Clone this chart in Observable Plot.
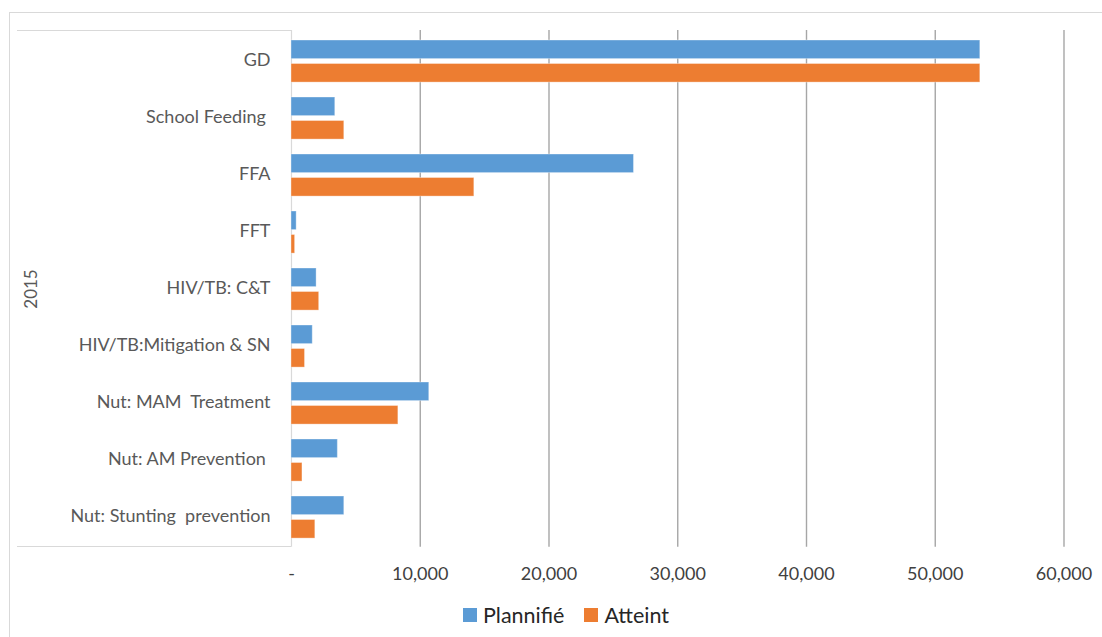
<!DOCTYPE html>
<html>
<head>
<meta charset="utf-8">
<script src="https://cdn.jsdelivr.net/npm/d3@7"></script>
<script src="https://cdn.jsdelivr.net/npm/@observablehq/plot@0.6"></script>
<style>
  html, body { margin: 0; padding: 0; background: #fff; }
  #wrap { position: relative; width: 1102px; height: 637px; overflow: hidden; font-family: Lato, "Open Sans", sans-serif; }
  #chart { position: absolute; left: 0; top: 0; }
  #chart svg text { white-space: pre; }
  .line { position: absolute; background: #d9d9d9; }
  #year { position: absolute; left: 30px; top: 289px; transform: translate(-50%, -50%) rotate(-90deg); font-size: 17px; color: #595959; white-space: nowrap; }
  #legend { position: absolute; left: 463px; top: 602px; display: flex; align-items: center; font-size: 21.5px; color: #262626; }
  #legend .sw { width: 14px; height: 14px; margin-right: 6px; }
  #legend .item { display: flex; align-items: center; margin-right: 20px; }
</style>
</head>
<body>
<div id="wrap">
  <div class="line" style="left:9px; top:12px; width:1px; height:625px;"></div>
  <div class="line" style="left:9px; top:12px; width:1093px; height:1px;"></div>
  <div class="line" style="left:17px; top:30px; width:274px; height:1px;"></div>
  <div class="line" style="left:17px; top:546px; width:274px; height:1px;"></div>
  <div id="chart"></div>
  <div id="year">2015</div>
  <div id="legend"></div>
</div>
<script>
const categories = ["GD", "School Feeding ", "FFA", "FFT", "HIV/TB: C&T", "HIV/TB:Mitigation & SN", "Nut: MAM  Treatment", "Nut: AM Prevention ", "Nut: Stunting  prevention"];
const seriesNames = ["Plannifié", "Atteint"];
const plannedValues = [53500, 3400, 26600, 400, 1950, 1650, 10700, 3600, 4100];
const achievedValues = [53500, 4100, 14200, 280, 2150, 1050, 8300, 850, 1850];
const xTicks = [0, 10000, 20000, 30000, 40000, 50000, 60000];
const colors = ["#5B9BD5", "#ED7D31"];

const planned = categories.map((c, i) => ({category: c, series: seriesNames[0], value: plannedValues[i]}));
const achieved = categories.map((c, i) => ({category: c, series: seriesNames[1], value: achievedValues[i]}));

const fmt = d => d === 0 ? "-" : d3.format(",")(d);

const chart = Plot.plot({
  width: 1102,
  height: 600,
  marginLeft: 291,
  marginRight: 38.5,
  marginTop: 30,
  marginBottom: 53.3,
  style: {fontFamily: "Lato, 'Open Sans', sans-serif", background: "transparent", overflow: "visible"},
  x: {domain: [0, 60000]},
  y: {domain: categories, padding: 0},
  color: {domain: seriesNames, range: colors},
  marks: [
    Plot.ruleX(xTicks.filter(d => d > 0), {stroke: "#a6a6a6", strokeWidth: 1.4}),
    Plot.ruleX([0], {stroke: "#d9d9d9", strokeWidth: 1.2}),
    Plot.barX(planned, {y: "category", x: "value", fill: "series", insetTop: 8, insetBottom: 30.4, stroke: "#fff", strokeOpacity: 0.35, strokeWidth: 1}),
    Plot.barX(achieved, {y: "category", x: "value", fill: "series", insetTop: 31.5, insetBottom: 6.9, stroke: "#fff", strokeOpacity: 0.35, strokeWidth: 1}),
    Plot.axisY({tickSize: 0, tickPadding: 21, fontSize: 18, fill: "#595959", label: null, dy: -1}),
    Plot.axisX({ticks: xTicks, tickFormat: fmt, tickSize: 0, tickPadding: 20, fontSize: 18, fill: "#404040", label: null})
  ]
});
document.getElementById("chart").appendChild(chart);

const legend = document.getElementById("legend");
seriesNames.forEach((name, i) => {
  const item = document.createElement("div");
  item.className = "item";
  const sw = document.createElement("div");
  sw.className = "sw";
  sw.style.background = colors[i];
  const label = document.createElement("span");
  label.textContent = name;
  item.appendChild(sw);
  item.appendChild(label);
  legend.appendChild(item);
});
</script>
</body>
</html>
